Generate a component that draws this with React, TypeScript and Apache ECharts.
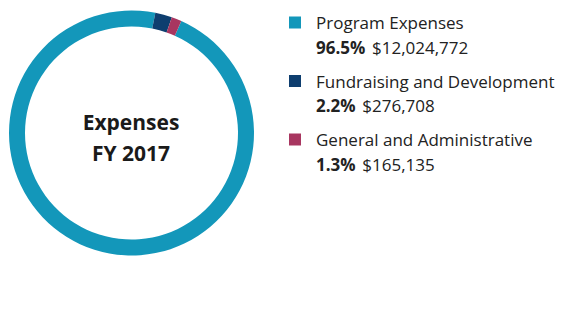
import React, { useEffect, useRef } from "react";
import * as echarts from "echarts";

const categories = ["Program Expenses", "Fundraising and Development", "General and Administrative"];
const amounts = [12024772, 276708, 165135];
const percentLabels = ["96.5%", "2.2%", "1.3%"];
const amountLabels = ["$12,024,772", "$276,708", "$165,135"];
const colors = ["#1397ba", "#0e3e6f", "#a83660"];
const titleLines = ["Expenses", "FY 2017"];

const FONT = "'Open Sans', sans-serif";

export default function App() {
  const ref = useRef<HTMLDivElement>(null);
  useEffect(() => {
    if (!ref.current) return;
    const chart = echarts.init(ref.current, null, { renderer: "svg" });
    const rowTop = 14;
    const rowStep = 58.5;
    chart.setOption({
      animation: false,
      color: colors,
      legend: {
        orient: "vertical",
        left: 289,
        top: rowTop,
        padding: 0,
        itemWidth: 12,
        itemHeight: 12,
        itemGap: rowStep - 17,
        icon: "rect",
        selectedMode: false,
        data: categories,
        textStyle: {
          fontFamily: FONT,
          fontSize: 17,
          color: "#222",
          lineHeight: 17,
          padding: [0, 0, 0, 10],
        },
      },
      graphic: [
        ...titleLines.map((t, i) => ({
          type: "text",
          x: 131,
          y: 122 + i * 31,
          style: {
            text: t,
            textAlign: "center",
            textVerticalAlign: "middle",
            fontFamily: FONT,
            fontSize: 21,
            fontWeight: "bold",
            fill: "#1a1a1a",
          },
        })),
        ...categories.map((_, i) => ({
          type: "text",
          x: 316,
          y: rowTop + 33 + i * rowStep,
          style: {
            text: `{p|${percentLabels[i]}}  {v|${amountLabels[i]}}`,
            textVerticalAlign: "middle",
            rich: {
              p: { fontFamily: FONT, fontSize: 17, fontWeight: "bold", fill: "#222" },
              v: { fontFamily: FONT, fontSize: 17, fill: "#222" },
            },
          },
        })),
      ],
      series: [
        {
          type: "pie",
          center: [131.5, 133],
          radius: [106.5, 122.5],
          startAngle: 66,
          clockwise: true,
          label: { show: false },
          labelLine: { show: false },
          emphasis: { disabled: true },
          data: categories.map((name, i) => ({ name, value: amounts[i] })),
        },
      ],
    });
    return () => chart.dispose();
  }, []);
  return <div ref={ref} style={{ width: 566, height: 313, position: "absolute", left: 0, top: 0 }} />;
}
